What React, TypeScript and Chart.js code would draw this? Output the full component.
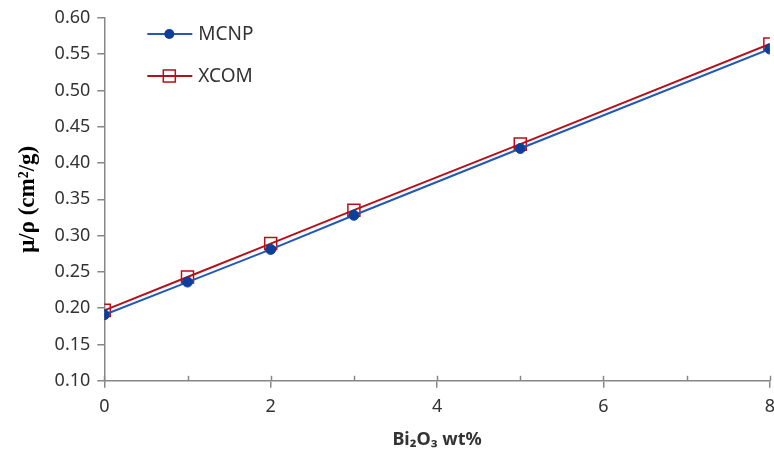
import React, { useEffect, useRef } from "react";
import { Chart, registerables } from "chart.js";

Chart.register(...registerables);

const xValues = [0, 1, 2, 3, 5, 8];
const mcnpValues = [0.191, 0.236, 0.281, 0.328, 0.42, 0.557];
const xcomValues = [0.197, 0.243, 0.289, 0.335, 0.426, 0.564];
const seriesNames = ["MCNP", "XCOM"];
const yTitle = "μ/ρ (cm²/g)";
const xTitle = "Bi₂O₃ wt%";

const BLUE_LINE = "#2258BA";
const BLUE_MARK = "#0E3E9C";
const RED = "#B81018";
const AXIS = "#878787";
const TEXT = "#333333";
const FONT = "'Noto Sans', 'Open Sans', sans-serif";

const minorTicks = {
  id: "minorTicks",
  afterDraw(chart: any) {
    const { ctx, chartArea, scales } = chart;
    const xs = scales.x;
    ctx.save();
    ctx.strokeStyle = AXIS;
    ctx.lineWidth = 1.5;
    for (let v = xs.min; v <= xs.max; v += 1) {
      const px = Math.round(xs.getPixelForValue(v)) + 0.5;
      ctx.beginPath();
      ctx.moveTo(px, chartArea.bottom);
      ctx.lineTo(px, chartArea.bottom - 5);
      ctx.stroke();
    }
    ctx.restore();
  },
};

const insideLegend = {
  id: "insideLegend",
  afterDraw(chart: any) {
    const { ctx, chartArea } = chart;
    const rows = [34, 76];
    ctx.save();
    chart.data.datasets.forEach((ds: any, i: number) => {
      const y = rows[i];
      const x0 = chartArea.left + 43;
      const x1 = chartArea.left + 88;
      const cx = chartArea.left + 65;
      ctx.strokeStyle = ds.borderColor;
      ctx.lineWidth = 2;
      ctx.beginPath();
      ctx.moveTo(x0, y);
      ctx.lineTo(x1, y);
      ctx.stroke();
      if (ds.pointStyle === "circle") {
        ctx.fillStyle = ds.pointBackgroundColor;
        ctx.beginPath();
        ctx.arc(cx, y, ds.pointRadius, 0, Math.PI * 2);
        ctx.fill();
      } else {
        const s = ds.pointRadius * Math.SQRT1_2;
        ctx.fillStyle = "#ffffff";
        ctx.strokeStyle = ds.pointBorderColor;
        ctx.lineWidth = ds.pointBorderWidth;
        ctx.fillRect(cx - s, y - s, 2 * s, 2 * s);
        ctx.strokeRect(cx - s, y - s, 2 * s, 2 * s);
        ctx.strokeStyle = ds.borderColor;
        ctx.lineWidth = 2;
        ctx.beginPath();
        ctx.moveTo(cx - s, y);
        ctx.lineTo(cx + s, y);
        ctx.stroke();
      }
      ctx.fillStyle = TEXT;
      ctx.font = `19px ${FONT}`;
      ctx.textBaseline = "middle";
      ctx.textAlign = "left";
      ctx.fillText(ds.label, x1 + 6, y + 1);
    });
    ctx.restore();
  },
};

export default function App() {
  const ref = useRef<HTMLCanvasElement | null>(null);

  useEffect(() => {
    if (!ref.current) return;
    const chart = new Chart(ref.current, {
      type: "line",
      data: {
        datasets: [
          {
            label: seriesNames[0],
            data: xValues.map((x, i) => ({ x, y: mcnpValues[i] })),
            borderColor: BLUE_LINE,
            borderWidth: 2,
            pointStyle: "circle",
            pointRadius: 5,
            pointBackgroundColor: BLUE_MARK,
            pointBorderColor: BLUE_MARK,
            pointBorderWidth: 1,
            tension: 0,
          },
          {
            label: seriesNames[1],
            data: xValues.map((x, i) => ({ x, y: xcomValues[i] })),
            borderColor: RED,
            borderWidth: 2,
            pointStyle: "rect",
            pointRadius: 8.5,
            pointBackgroundColor: "rgba(255,255,255,0)",
            pointBorderColor: RED,
            pointBorderWidth: 1.5,
            tension: 0,
          },
        ],
      },
      options: {
        responsive: false,
        animation: false,
        layout: { padding: { top: 8, bottom: 8, left: 14, right: 0 } },
        plugins: {
          legend: { display: false },
          tooltip: { enabled: false },
        },
        scales: {
          x: {
            type: "linear",
            min: 0,
            max: 8,
            border: { color: AXIS, width: 1.5 },
            grid: {
              drawOnChartArea: false,
              tickLength: 7,
              color: (c: any) => (c.tick && c.tick.value % 2 === 0 ? AXIS : "rgba(0,0,0,0)"),
              lineWidth: 1.5,
            },
            ticks: {
              stepSize: 1,
              autoSkip: false,
              maxRotation: 0,
              padding: 8,
              color: TEXT,
              font: { family: FONT, size: 18 },
              callback: (v: any) => (Number(v) % 2 === 0 ? String(v) : ""),
            },
            title: {
              display: true,
              text: xTitle,
              color: TEXT,
              font: { family: FONT, size: 18, weight: "bold" },
              padding: { top: 4, bottom: 0 },
            },
          },
          y: {
            min: 0.1,
            max: 0.6,
            border: { color: AXIS, width: 1.5 },
            grid: {
              drawOnChartArea: false,
              tickLength: 7,
              color: AXIS,
              lineWidth: 1.5,
            },
            ticks: {
              stepSize: 0.05,
              padding: 7,
              color: TEXT,
              font: { family: FONT, size: 18 },
              callback: (v: any) => Number(v).toFixed(2),
            },
            title: {
              display: true,
              text: yTitle,
              color: "#000000",
              font: { family: "'Liberation Serif', 'Times New Roman', serif", size: 23, weight: "bold" },
              padding: { top: 0, bottom: 6 },
            },
          },
        },
      },
      plugins: [minorTicks, insideLegend],
    });
    return () => chart.destroy();
  }, []);

  return (
    <div style={{ position: "fixed", left: 0, top: 0, width: 774, height: 459, overflow: "hidden", background: "#fff" }}>
      <canvas ref={ref} width={783} height={459} style={{ display: "block" }} />
    </div>
  );
}
